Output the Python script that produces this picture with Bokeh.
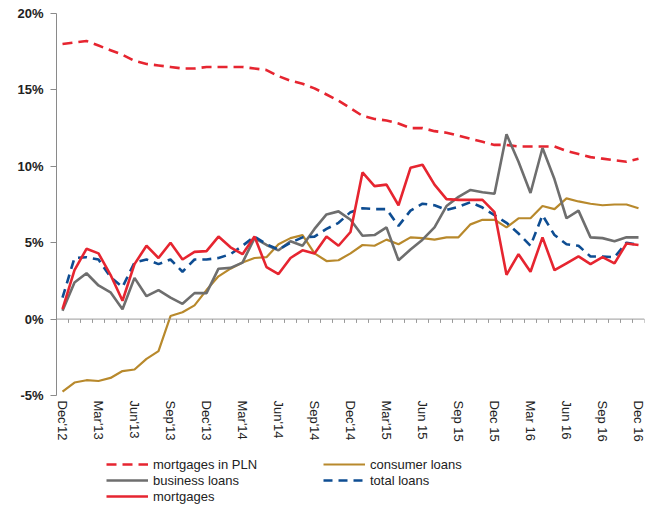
from bokeh.plotting import figure
from bokeh.layouts import column
from bokeh.models import (Range1d, FixedTicker, PrintfTickFormatter, Span, Legend,
                          LegendItem)
from bokeh.embed import file_html
from bokeh.resources import INLINE

# ---------------- data (y/y growth, %) Dec'12 .. Dec'16, monthly ----------------
month_index = list(range(49))
tick_positions = list(range(0, 49, 3))
tick_labels = ["Dec'12", "Mar'13", "Jun'13", "Sep'13", "Dec'13", "Mar'14", "Jun'14",
               "Sep'14", "Dec'14", "Mar'15", "Jun 15", "Sep 15", "Dec 15", "Mar 16",
               "Jun 16", "Sep 16", "Dec 16"]

mortgages_pln = [18.0, 18.1, 18.2, 17.9, 17.6, 17.3, 16.9, 16.7, 16.6, 16.5, 16.4, 16.4,
                 16.5, 16.5, 16.5, 16.5, 16.4, 16.3, 15.9, 15.6, 15.4, 15.1, 14.7, 14.3,
                 13.8, 13.3, 13.1, 13.0, 12.8, 12.5, 12.5, 12.3, 12.2, 12.0, 11.8, 11.6,
                 11.4, 11.4, 11.3, 11.3, 11.3, 11.3, 11.0, 10.8, 10.6, 10.5, 10.4, 10.3, 10.5]

consumer_loans = [-4.75, -4.15, -4.0, -4.05, -3.85, -3.4, -3.3, -2.6, -2.1, 0.2, 0.45, 0.9,
                  1.9, 2.8, 3.3, 3.7, 4.0, 4.05, 4.9, 5.3, 5.5, 4.3, 3.8, 3.85,
                  4.3, 4.85, 4.8, 5.2, 4.9, 5.35, 5.3, 5.2, 5.35, 5.35, 6.2, 6.5,
                  6.5, 6.0, 6.6, 6.6, 7.4, 7.2, 7.9, 7.7, 7.55, 7.45, 7.5, 7.5, 7.25]

business_loans = [0.55, 2.4, 3.0, 2.2, 1.75, 0.65, 2.7, 1.5, 1.9, 1.4, 1.0, 1.7,
                  1.7, 3.3, 3.35, 3.7, 5.3, 4.85, 4.5, 5.1, 4.8, 5.9, 6.85, 7.05,
                  6.5, 5.45, 5.5, 6.0, 3.85, 4.55, 5.2, 6.0, 7.4, 8.0, 8.45, 8.3,
                  8.2, 12.1, 10.3, 8.25, 11.2, 9.15, 6.6, 7.1, 5.35, 5.3, 5.1, 5.35, 5.35]

total_loans = [1.4, 4.0, 4.05, 3.9, 2.75, 2.1, 3.7, 3.9, 3.6, 3.9, 3.1, 3.9,
               3.9, 4.0, 4.25, 4.8, 5.4, 4.9, 4.55, 5.0, 5.35, 5.4, 5.9, 6.3,
               7.0, 7.25, 7.2, 7.2, 6.1, 7.1, 7.55, 7.45, 7.15, 7.35, 7.65, 7.3,
               6.8, 6.3, 5.6, 4.8, 6.8, 5.5, 4.9, 4.8, 4.1, 4.1, 4.05, 5.0, 4.85]

mortgages = [0.65, 3.2, 4.6, 4.3, 2.9, 1.2, 3.6, 4.8, 4.0, 5.0, 3.9, 4.4,
             4.45, 5.4, 4.7, 4.25, 5.4, 3.4, 2.95, 4.0, 4.5, 4.3, 5.4, 4.8,
             5.7, 9.6, 8.7, 8.8, 7.45, 9.9, 10.1, 8.8, 7.85, 7.8, 7.8, 7.8,
             7.0, 2.9, 4.25, 3.1, 5.35, 3.2, 3.65, 4.1, 3.6, 4.05, 3.65, 4.95, 4.85]

y_ticks = [-5, 0, 5, 10, 15, 20]

series = [  # (label, values, colour, width, dash)
    ("mortgages in PLN", mortgages_pln, "#E62530", 2.6, "10 6"),
    ("consumer loans", consumer_loans, "#B8892C", 2.2, "solid"),
    ("business loans", business_loans, "#6E6E6E", 2.6, "solid"),
    ("total loans", total_loans, "#0E4D92", 2.6, "9 6"),
    ("mortgages", mortgages, "#E62530", 2.6, "solid"),
]
legend_order = ["mortgages in PLN", "business loans", "mortgages", "consumer loans", "total loans"]

FONT = "Liberation Sans"
TXT = "#222222"

# ---------------- main chart ----------------
p = figure(width=648, height=453, output_backend="svg", toolbar_location=None,
           x_range=Range1d(-0.5, len(month_index) - 0.5), y_range=Range1d(y_ticks[0], y_ticks[-1]),
           min_border_left=56, min_border_right=4, min_border_top=13, min_border_bottom=58)
p.outline_line_color = None
p.grid.visible = False

# zero line with month tick marks
p.add_layout(Span(location=0, dimension="width", line_color="#9A9A9A", line_width=1))
bx = [i + 0.5 for i in month_index]
p.segment(x0=bx, x1=bx, y0=[0] * len(bx), y1=[-0.25] * len(bx), line_color="#9A9A9A", line_width=1)

for label, vals, col, w, dash in series:
    p.line(month_index, vals, line_color=col, line_width=w, line_dash=dash)

xa = p.xaxis[0]
xa.ticker = FixedTicker(ticks=tick_positions)
xa.major_label_overrides = {t: l for t, l in zip(tick_positions, tick_labels)}
xa.major_label_orientation = "vertical"
xa.axis_line_alpha = 0
xa.major_tick_line_alpha = 0
xa.minor_tick_line_alpha = 0
xa.major_tick_out = 0
xa.major_tick_in = 0
xa.major_label_standoff = 5
xa.major_label_text_font = FONT
xa.major_label_text_font_size = "13px"
xa.major_label_text_color = TXT

ya = p.yaxis[0]
ya.ticker = FixedTicker(ticks=y_ticks)
ya.formatter = PrintfTickFormatter(format="%d%%")
ya.axis_line_color = "#8A8A8A"
ya.major_tick_line_color = "#8A8A8A"
ya.major_tick_out = 6
ya.major_tick_in = 0
ya.minor_tick_line_alpha = 0
ya.major_label_standoff = 7
ya.major_label_text_font = FONT
ya.major_label_text_font_size = "13px"
ya.major_label_text_font_style = "bold"
ya.major_label_text_color = TXT

# ---------------- legend strip (same series, drawn out of view; only the legend shows) ----------------
lf = figure(width=648, height=51, output_backend="svg", toolbar_location=None,
            x_range=Range1d(-0.5, len(month_index) - 0.5), y_range=Range1d(100, 101),
            x_axis_location=None, y_axis_location=None,
            min_border_left=0, min_border_right=0, min_border_top=0, min_border_bottom=0)
lf.grid.visible = False
lf.outline_line_color = None
items = {}
for label, vals, col, w, dash in series:
    r = lf.line(month_index, vals, line_color=col, line_width=w, line_dash=dash)
    items[label] = LegendItem(label=label, renderers=[r])

legend = Legend(items=[items[k] for k in legend_order], location=(50, 0),
                orientation="vertical", nrows=3)
legend.border_line_alpha = 0
legend.background_fill_alpha = 0
legend.padding = 0
legend.margin = 0
legend.spacing = 0
legend.label_height = 16
legend.glyph_height = 16
legend.glyph_width = 42
legend.label_width = 170
legend.label_standoff = 5
legend.label_text_font = FONT
legend.label_text_font_size = "13px"
legend.label_text_color = TXT
lf.add_layout(legend)

open("out.html", "w").write(file_html(column(p, lf), INLINE))
